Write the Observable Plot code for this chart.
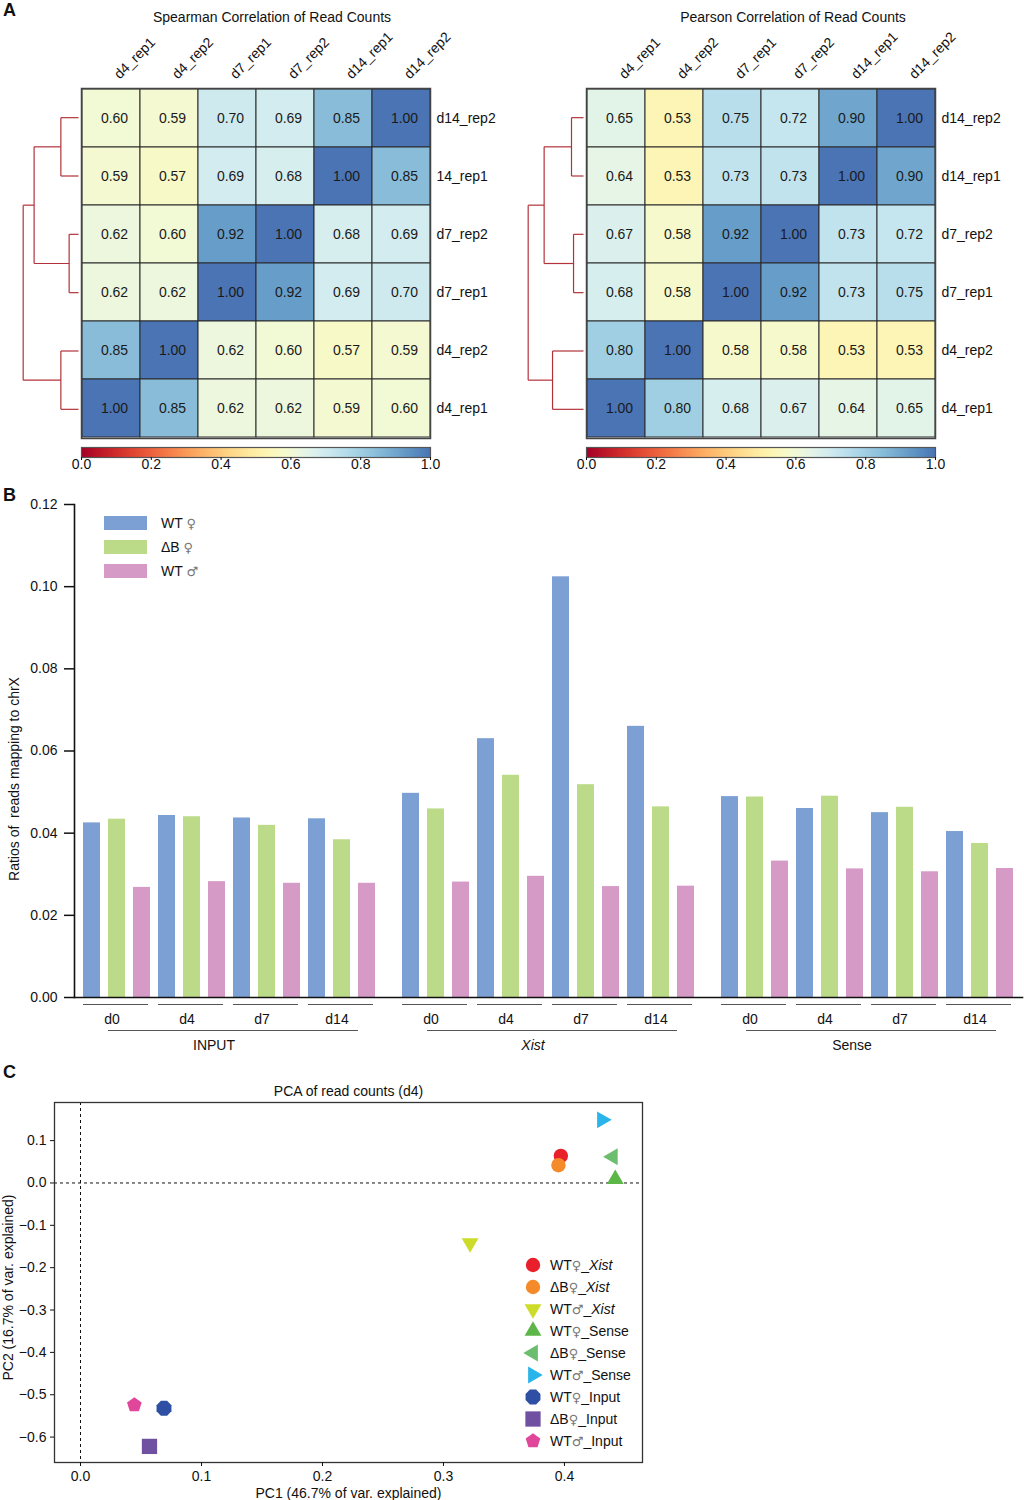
<!DOCTYPE html>
<html>
<head>
<meta charset="utf-8">
<script src="https://cdn.jsdelivr.net/npm/d3@7"></script>
<script src="https://cdn.jsdelivr.net/npm/@observablehq/plot@0.6"></script>
<style>
  body { margin: 0; background: #fff; font-family: "Liberation Sans", Arial, Helvetica, sans-serif; color: #111; }
  #root { position: relative; width: 1024px; height: 1500px; overflow: hidden; background: #fff; }
  .letter { position: absolute; font-weight: bold; font-size: 18px; line-height: 1; }
  .lg { position: absolute; font-size: 14px; white-space: nowrap; line-height: 20px; height: 20px; }
  .sym { color: #777; font-family: "DejaVu Sans", sans-serif; font-size: 13px; }
</style>
</head>
<body>
<div id="root"></div>
<script>
// ---------------- DATA ----------------
// Panel A: correlation heatmaps
const hmCols = ["d4_rep1", "d4_rep2", "d7_rep1", "d7_rep2", "d14_rep1", "d14_rep2"];
const spearmanRows = ["d14_rep2", "14_rep1", "d7_rep2", "d7_rep1", "d4_rep2", "d4_rep1"];
const spearmanValues = [
  [0.60, 0.59, 0.70, 0.69, 0.85, 1.00],
  [0.59, 0.57, 0.69, 0.68, 1.00, 0.85],
  [0.62, 0.60, 0.92, 1.00, 0.68, 0.69],
  [0.62, 0.62, 1.00, 0.92, 0.69, 0.70],
  [0.85, 1.00, 0.62, 0.60, 0.57, 0.59],
  [1.00, 0.85, 0.62, 0.62, 0.59, 0.60]
];
const pearsonRows = ["d14_rep2", "d14_rep1", "d7_rep2", "d7_rep1", "d4_rep2", "d4_rep1"];
const pearsonValues = [
  [0.65, 0.53, 0.75, 0.72, 0.90, 1.00],
  [0.64, 0.53, 0.73, 0.73, 1.00, 0.90],
  [0.67, 0.58, 0.92, 1.00, 0.73, 0.72],
  [0.68, 0.58, 1.00, 0.92, 0.73, 0.75],
  [0.80, 1.00, 0.58, 0.58, 0.53, 0.53],
  [1.00, 0.80, 0.68, 0.67, 0.64, 0.65]
];
// dendrogram linkage: [child a, child b, merge height]; leaves 0..5 = rows, merges numbered from 6
const spearmanLinkage = [[0, 1, 0.147], [2, 3, 0.078], [6, 7, 0.37], [4, 5, 0.147], [8, 9, 0.461]];
const pearsonLinkage = [[0, 1, 0.10], [2, 3, 0.083], [6, 7, 0.328], [4, 5, 0.258], [8, 9, 0.461]];
const colorbarTicks = [0, 0.2, 0.4, 0.6, 0.8, 1.0];

// Panel B: ratio of reads mapping to chrX
const sections = ["INPUT", "Xist", "Sense"];
const timepoints = ["d0", "d4", "d7", "d14"];
const groups = ["WT ♀", "ΔB ♀", "WT ♂"];
const wtFemale = [0.0425, 0.0443, 0.0437, 0.0435, 0.0497, 0.0630, 0.1024, 0.0660, 0.0489, 0.0460, 0.0450, 0.0404];
const dbFemale = [0.0434, 0.0440, 0.0419, 0.0384, 0.0459, 0.0541, 0.0518, 0.0464, 0.0488, 0.0490, 0.0463, 0.0375];
const wtMale   = [0.0268, 0.0282, 0.0278, 0.0278, 0.0281, 0.0295, 0.0270, 0.0271, 0.0332, 0.0313, 0.0306, 0.0314];
const barYTicks = [0, 0.02, 0.04, 0.06, 0.08, 0.10, 0.12];

// Panel C: PCA
const pcaLabels = ["WT♀_Xist", "ΔB♀_Xist", "WT♂_Xist", "WT♀_Sense", "ΔB♀_Sense", "WT♂_Sense", "WT♀_Input", "ΔB♀_Input", "WT♂_Input"];
const pc1 = [0.397, 0.395, 0.322, 0.442, 0.440, 0.431, 0.069, 0.057, 0.0445];
const pc2 = [0.064, 0.042, -0.142, 0.009, 0.062, 0.149, -0.532, -0.622, -0.524];
const pcaXTicks = [0, 0.1, 0.2, 0.3, 0.4];
const pcaYTicks = [0.1, 0, -0.1, -0.2, -0.3, -0.4, -0.5, -0.6];

// ---------------- HELPERS ----------------
const FONT = '"Liberation Sans", Arial, Helvetica, sans-serif';
const root = document.getElementById("root");
function place(node, left, top) {
  const d = document.createElement("div");
  d.style.cssText = `position:absolute;left:${left}px;top:${top}px;`;
  d.appendChild(node);
  root.appendChild(d);
  return d;
}
const baseStyle = {background: "transparent", fontFamily: FONT, fontSize: "14px", color: "#111", overflow: "visible"};
const heatColor = {type: "linear", domain: [0, 1], interpolate: (t) => d3.interpolateRdYlBu(0.9 * t)};

function heatmap(title, rows, values, marginLeft, marginRight, titleDx) {
  const cells = rows.flatMap((r, i) => hmCols.map((c, j) => ({row: r, col: c, v: values[i][j]})));
  return Plot.plot({
    width: 512, height: 440,
    marginLeft, marginRight, marginTop: 88, marginBottom: 2,
    style: baseStyle,
    x: {domain: hmCols, padding: 0, axis: null},
    y: {domain: rows, padding: 0, axis: null},
    color: heatColor,
    marks: [
      Plot.cell(cells, {x: "col", y: "row", fill: "v", stroke: "#2a2a2a", strokeWidth: 1, inset: 0}),
      Plot.text(cells, {x: "col", y: "row", text: (d) => d.v.toFixed(2), fill: "#1a1a1a", dx: 3, fontSize: 14}),
      Plot.frame({stroke: "#444", strokeWidth: 1.5}),
      Plot.text(hmCols, {x: (d) => d, text: (d) => d, frameAnchor: "top", lineAnchor: "middle", dy: -12, dx: 5, rotate: -45, textAnchor: "start", fontSize: 14}),
      Plot.text(rows, {y: (d) => d, text: (d) => d, frameAnchor: "right", dx: 6, textAnchor: "start", fontSize: 14}),
      Plot.text([title], {text: (d) => d, frameAnchor: "top", lineAnchor: "middle", dy: -71, dx: titleDx, fontSize: 14})
    ]
  });
}

function colorbar(marginLeft, marginRight) {
  return Plot.plot({
    width: 512, height: 40,
    marginLeft, marginRight, marginTop: 7, marginBottom: 23,
    style: baseStyle,
    x: {domain: [0, 1]},
    y: {domain: [0, 1], axis: null},
    color: heatColor,
    marks: [
      Plot.raster({fill: (x, y) => x, x1: 0, x2: 1, y1: 0, y2: 1}),
      Plot.frame({stroke: "#555", strokeWidth: 1.2}),
      Plot.axisX({ticks: colorbarTicks, tickFormat: d3.format(".1f"), tickSize: 3, tickPadding: -1, fontSize: 14, label: null})
    ]
  });
}

function dendrogram(rows, linkage, width, leafX) {
  const nodes = rows.map((r, i) => ({h: 0, y: i}));
  const segs = [];
  for (const [a, b, h] of linkage) {
    const A = nodes[a], B = nodes[b];
    segs.push({x1: A.h, y1: A.y, x2: h, y2: A.y});
    segs.push({x1: B.h, y1: B.y, x2: h, y2: B.y});
    segs.push({x1: h, y1: A.y, x2: h, y2: B.y});
    nodes.push({h, y: (A.y + B.y) / 2});
  }
  return Plot.plot({
    width, height: 440, marginTop: 88, marginBottom: 2, marginLeft: 0, marginRight: 0,
    style: baseStyle,
    x: {domain: [0, 1], range: [leafX, leafX - 120], axis: null},
    y: {domain: [rows.length - 0.5, -0.5], axis: null},
    marks: [
      Plot.link(segs, {x1: "x1", y1: "y1", x2: "x2", y2: "y2", stroke: "#b3323a", strokeWidth: 1.2})
    ]
  });
}

// ---------------- PANEL A ----------------
place(heatmap("Spearman Correlation of Read Counts", spearmanRows, spearmanValues, 81, 82, 16), 0, 0);
place(colorbar(81, 82), 0, 440);
place(dendrogram(spearmanRows, spearmanLinkage, 81, 78), 0, 0);

place(heatmap("Pearson Correlation of Read Counts", pearsonRows, pearsonValues, 74, 89, 32), 512, 0);
place(colorbar(74, 89), 512, 440);
place(dendrogram(pearsonRows, pearsonLinkage, 74, 71), 512, 0);

// ---------------- PANEL B ----------------
const series = [wtFemale, dbFemale, wtMale];
const barRows = [];
sections.forEach((s, si) => timepoints.forEach((t, ti) => groups.forEach((g, gi) => {
  barRows.push({section: s, time: t, group: g, key: t + "|" + g, value: series[gi][si * 4 + ti]});
})));
const barKeys = timepoints.flatMap((t) => groups.map((g) => t + "|" + g));
const timeMarks = sections.flatMap((s) => timepoints.map((t) => ({
  section: s, time: t, first: t + "|" + groups[0], mid: t + "|" + groups[1], last: t + "|" + groups[2]
})));
const sectionMarks = sections.map((s) => ({
  section: s, start: timepoints[0] + "|" + groups[1], end: timepoints[3] + "|" + groups[1], at: timepoints[1] + "|" + groups[2]
}));

const barPlot = Plot.plot({
  width: 1024, height: 570,
  marginLeft: 73, marginRight: 1, marginTop: 14, marginBottom: 63,
  style: baseStyle,
  fx: {domain: sections, paddingInner: 0.027, paddingOuter: 0, axis: null},
  x: {domain: barKeys, padding: 0.325, axis: null},
  y: {domain: [0, 0.12]},
  color: {domain: groups, range: ["#7da0d4", "#bcdb88", "#d59ac5"]},
  marks: [
    Plot.barY(barRows, {fx: "section", x: "key", y: "value", fill: "group", inset: 0}),
    Plot.frame({anchor: "bottom", facet: "super", stroke: "#111", strokeWidth: 1.6}),
    Plot.frame({anchor: "left", facet: "super", stroke: "#111", strokeWidth: 1.6}),
    Plot.axisY({ticks: barYTicks, tickFormat: d3.format(".2f"), tickSize: 10, tickPadding: 7, label: null, fontSize: 14, strokeWidth: 1.5}),
    Plot.ruleY(timeMarks, {fx: "section", x1: "first", x2: "last", y: 0, dy: 7, insetRight: 2, stroke: "#555", strokeWidth: 1}),
    Plot.text(timeMarks, {fx: "section", x: "mid", text: "time", frameAnchor: "bottom", lineAnchor: "middle", dy: 22, dx: -5, fontSize: 14}),
    Plot.ruleY(sectionMarks, {fx: "section", x1: "start", x2: "end", y: 0, dy: 33, insetRight: -8, stroke: "#555", strokeWidth: 1}),
    Plot.text(sectionMarks.filter((d) => d.section !== "Xist"), {fx: "section", x: "at", text: "section", frameAnchor: "bottom", lineAnchor: "middle", dy: 48, dx: -3, fontSize: 14}),
    Plot.text(sectionMarks.filter((d) => d.section === "Xist"), {fx: "section", x: "at", text: "section", frameAnchor: "bottom", lineAnchor: "middle", dy: 48, dx: -3, fontSize: 14, fontStyle: "italic"}),
    Plot.text(["Ratios of  reads mapping to chrX"], {text: (d) => d, frameAnchor: "left", textAnchor: "middle", lineAnchor: "middle", facet: "super", rotate: -90, dx: -60, dy: 28, fontSize: 14})
  ]
});
place(barPlot, 0, 490);

// legend for panel B
const barColors = ["#7da0d4", "#bcdb88", "#d59ac5"];
groups.forEach((g, i) => {
  const top = 516 + i * 24;
  const sw = document.createElement("div");
  sw.style.cssText = `position:absolute;left:104px;top:${top}px;width:43px;height:14px;background:${barColors[i]};`;
  root.appendChild(sw);
  const [name, sym] = g.split(" ");
  const lab = document.createElement("div");
  lab.className = "lg";
  lab.style.left = "161px";
  lab.style.top = (top - 3) + "px";
  lab.innerHTML = `${name} <span class="sym">${sym}</span>`;
  root.appendChild(lab);
});

// ---------------- PANEL C ----------------
function polygon(n, rot, k) {
  return {
    draw(ctx, size) {
      const R = Math.sqrt(size / Math.PI) * k;
      for (let i = 0; i < n; ++i) {
        const a = rot + (i * 2 * Math.PI) / n;
        const px = R * Math.cos(a), py = R * Math.sin(a);
        if (i) ctx.lineTo(px, py); else ctx.moveTo(px, py);
      }
      ctx.closePath();
    }
  };
}
const pcaSymbols = [
  d3.symbolCircle, d3.symbolCircle,
  polygon(3, Math.PI / 2, 1.35), polygon(3, -Math.PI / 2, 1.35), polygon(3, Math.PI, 1.35), polygon(3, 0, 1.35),
  polygon(8, Math.PI / 8, 1.12), polygon(4, Math.PI / 4, 1.5), polygon(5, -Math.PI / 2, 1.07)
];
const pcaColors = ["#e8202b", "#f58a2b", "#cddc29", "#5cb648", "#6cbe6e", "#29b5ea", "#2e4fa3", "#7051a1", "#e0479b"];
const pcaRows = pcaLabels.map((label, i) => ({label, pc1: pc1[i], pc2: pc2[i]}));

const pcaPlot = Plot.plot({
  width: 660, height: 440,
  marginLeft: 54, marginRight: 18, marginTop: 42, marginBottom: 38,
  style: baseStyle,
  x: {domain: [-0.0215, 0.4645]},
  y: {domain: [-0.66, 0.19]},
  color: {domain: pcaLabels, range: pcaColors},
  symbol: {domain: pcaLabels, range: pcaSymbols},
  marks: [
    Plot.ruleX([0], {stroke: "#111", strokeDasharray: "3,3", strokeWidth: 1}),
    Plot.ruleY([0], {stroke: "#111", strokeDasharray: "3,3", strokeWidth: 1}),
    Plot.dot(pcaRows, {x: "pc1", y: "pc2", symbol: "label", fill: "label", r: 7.2}),
    Plot.frame({stroke: "#333", strokeWidth: 1.3}),
    Plot.axisX({ticks: pcaXTicks, tickFormat: d3.format(".1f"), tickSize: 4, tickPadding: 5, label: null, fontSize: 14}),
    Plot.axisY({ticks: pcaYTicks, tickFormat: d3.format(".1f"), tickSize: 4, tickPadding: 4, label: null, fontSize: 14}),
    Plot.text(["PCA of read counts (d4)"], {text: (d) => d, frameAnchor: "top", lineAnchor: "middle", dy: -11, fontSize: 14}),
    Plot.text(["PC1 (46.7% of var. explained)"], {text: (d) => d, frameAnchor: "bottom", lineAnchor: "middle", dy: 31, fontSize: 14}),
    Plot.text(["PC2 (16.7% of var. explained)"], {text: (d) => d, frameAnchor: "left", textAnchor: "middle", lineAnchor: "middle", dx: -46, dy: 5, rotate: -90, fontSize: 14})
  ]
});
place(pcaPlot, 0, 1060);

// legend for panel C
pcaLabels.forEach((label, i) => {
  const cy = 1265 + i * 22;
  const svg = d3.create("svg").attr("width", 20).attr("height", 20)
    .style("position", "absolute").style("left", "523px").style("top", (cy - 10) + "px").style("overflow", "visible");
  svg.append("path").attr("transform", "translate(10,10)")
    .attr("d", d3.symbol(pcaSymbols[i], Math.PI * 7.2 * 7.2)())
    .attr("fill", pcaColors[i]);
  root.appendChild(svg.node());
  const [pre, post] = label.split("_");
  const sym = pre.slice(-1), name = pre.slice(0, -1);
  const lab = document.createElement("div");
  lab.className = "lg";
  lab.style.left = "550px";
  lab.style.top = (cy - 10) + "px";
  lab.innerHTML = `${name}<span class="sym">${sym}</span>_` + (post === "Xist" ? `<i>${post}</i>` : post);
  root.appendChild(lab);
});

// panel letters
[["A", 3, 1], ["B", 3, 486], ["C", 3, 1063]].forEach(([t, l, tp]) => {
  const d = document.createElement("div");
  d.className = "letter";
  d.style.left = l + "px";
  d.style.top = tp + "px";
  d.textContent = t;
  root.appendChild(d);
});
</script>
</body>
</html>
